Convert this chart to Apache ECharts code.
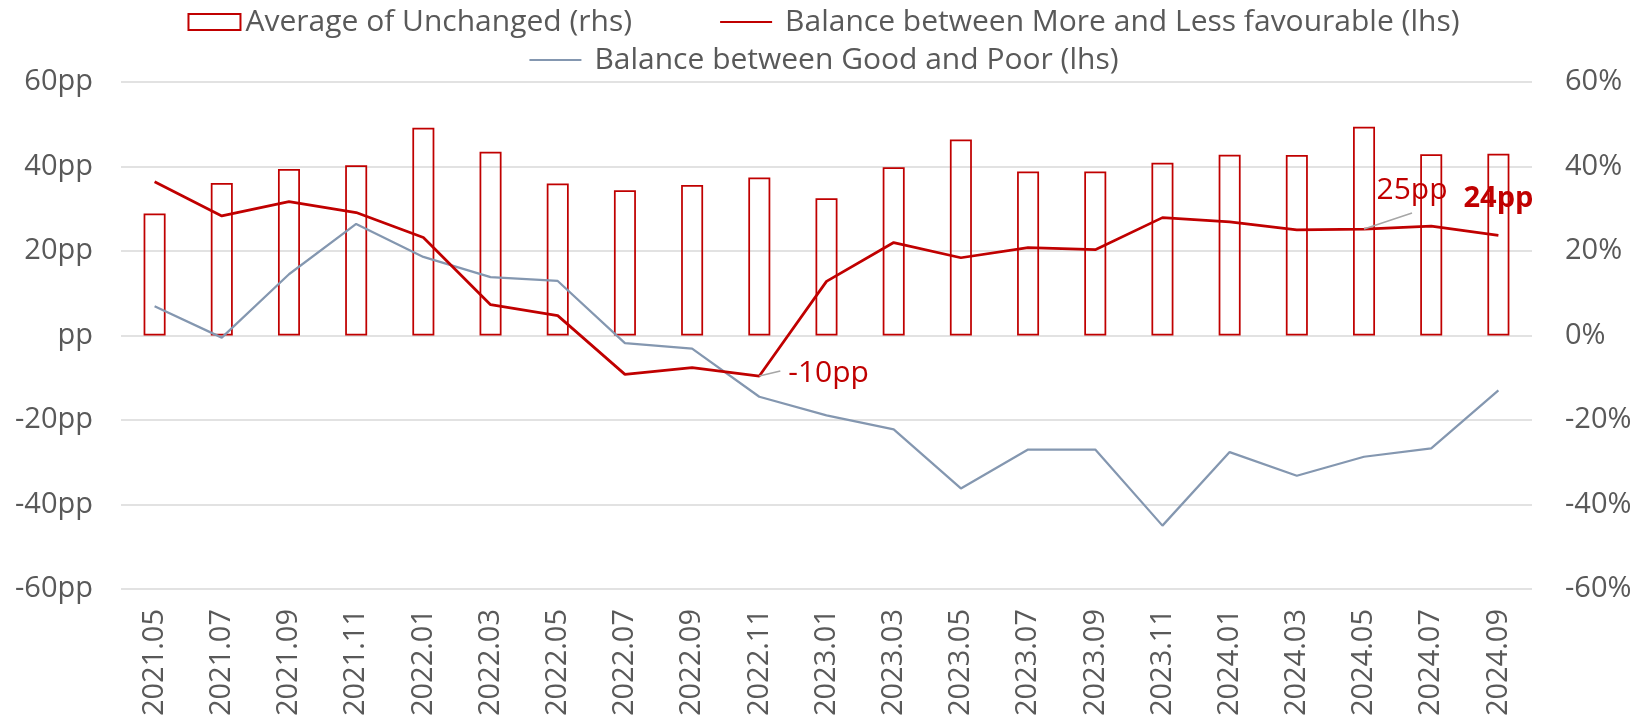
<!DOCTYPE html>
<html>
<head>
<meta charset="utf-8">
<script src="https://cdn.jsdelivr.net/npm/echarts@6.0.0/dist/echarts.min.js"></script>
<style>
    html, body { margin: 0; padding: 0; background: #fff; }
    #chart { width: 1647px; height: 721px; }
</style>
</head>
<body>
<div id="chart"></div>
<script>
// categories (every second month)
const months = [
    "2021.05", "2021.07", "2021.09", "2021.11", "2022.01", "2022.03", "2022.05",
    "2022.07", "2022.09", "2022.11", "2023.01", "2023.03", "2023.05", "2023.07",
    "2023.09", "2023.11", "2024.01", "2024.03", "2024.05", "2024.07", "2024.09"
];
// % answering "unchanged" (right axis)
const unchanged = [
    28.9, 36.1, 39.4, 40.3, 49.2, 43.5, 36.0, 34.4, 35.6, 37.4, 32.5,
    39.8, 46.4, 38.8, 38.8, 40.9, 42.8, 42.7, 49.4, 42.9, 43.0
];
// balance more vs less favourable, pp (left axis)
const moreLess = [
    36.4, 28.3, 31.7, 29.1, 23.2, 7.3, 4.7, -9.2, -7.6, -9.6, 12.8,
    22.0, 18.4, 20.8, 20.3, 27.9, 26.9, 25.0, 25.2, 25.9, 23.7
];
// balance good vs poor, pp (left axis)
const goodPoor = [
    6.9, -0.5, 14.5, 26.4, 18.6, 13.8, 12.9, -1.8, -3.1, -14.5, -18.9,
    -22.2, -36.2, -27.0, -27.0, -45.0, -27.6, -33.2, -28.7, -26.7, -13.0
];
const leftTicks = [-60, -40, -20, 0, 20, 40, 60];
// points of the red line that get a value label
const annotIdx = [9, 18, 20];

const nameBar = "Average of Unchanged (rhs)";
const nameRed = "Balance between More and Less favourable (lhs)";
const nameGray = "Balance between Good and Poor (lhs)";

const RED = "#C00000";
const GRAY = "#8497B0";
const TXT = "#595959";
const FONT = "Open Sans";

// pixel offsets of leader end and text from each labelled point
const annotLook = [
    { lx: 21, ly: -5, tx: 29, ty: -3, align: "left", weight: "normal", size: 30 },
    { lx: 48, ly: -16, tx: 48, ty: -39, align: "center", weight: "normal", size: 30 },
    { lx: null, ly: null, tx: 0, ty: -37, align: "center", weight: "bold", size: 29 }
];

function renderAnnot(params, api) {
    const v = api.value(1);
    const pt = api.coord([api.value(0), v]);
    const a = annotLook[params.dataIndex];
    const children = [];
    if (a.lx !== null) {
        children.push({
            type: "line",
            shape: { x1: pt[0], y1: pt[1], x2: pt[0] + a.lx, y2: pt[1] + a.ly },
            style: { stroke: "#A6A6A6", lineWidth: 1.5 }
        });
    }
    children.push({
        type: "text",
        x: pt[0] + a.tx,
        y: pt[1] + a.ty,
        style: {
            text: Math.round(v) + "pp",
            fill: RED,
            fontSize: a.size,
            fontFamily: FONT,
            fontWeight: a.weight,
            align: a.align,
            verticalAlign: "middle"
        }
    });
    return { type: "group", children: children };
}

const lineItemText = { padding: [0, 0, 0, 8] };
const hideDot = { opacity: 0 };

const chart = echarts.init(document.getElementById("chart"));
chart.setOption({
    animation: false,
    textStyle: { fontFamily: FONT },
    legend: [
        {
            data: [
                { name: nameBar, icon: "rect" },
                { name: nameRed, itemStyle: hideDot, textStyle: lineItemText }
            ],
            top: 2,
            left: "center",
            itemGap: 87,
            itemWidth: 52,
            itemHeight: 16,
            textStyle: { fontSize: 30, color: TXT, fontFamily: FONT }
        },
        {
            data: [{ name: nameGray, itemStyle: hideDot, textStyle: lineItemText }],
            top: 40,
            left: "center",
            itemWidth: 52,
            itemHeight: 16,
            textStyle: { fontSize: 30, color: TXT, fontFamily: FONT }
        }
    ],
    grid: { left: 121, right: 115, top: 82, bottom: 132 },
    xAxis: {
        type: "category",
        data: months,
        axisLine: { show: false, onZero: false },
        axisTick: { show: false },
        axisLabel: {
            rotate: 90,
            margin: 20,
            fontSize: 29,
            color: TXT,
            fontFamily: FONT
        }
    },
    yAxis: [
        {
            type: "value",
            min: leftTicks[0],
            max: leftTicks[leftTicks.length - 1],
            interval: 20,
            axisLabel: {
                margin: 28,
                fontSize: 29,
                color: TXT,
                fontFamily: FONT,
                formatter: v => (v === 0 ? "pp" : v + "pp")
            },
            splitLine: { lineStyle: { color: "#D9D9D9", width: 1.5 } }
        },
        {
            type: "value",
            min: -60,
            max: 60,
            interval: 20,
            axisLabel: {
                margin: 33,
                fontSize: 29,
                color: TXT,
                fontFamily: FONT,
                formatter: v => v + "%"
            },
            splitLine: { show: false }
        }
    ],
    series: [
        {
            name: nameBar,
            type: "bar",
            yAxisIndex: 1,
            data: unchanged,
            barWidth: 22,
            itemStyle: {
                color: "rgba(0,0,0,0)",
                borderColor: RED,
                borderWidth: 1.75
            }
        },
        {
            name: nameRed,
            type: "line",
            yAxisIndex: 0,
            data: moreLess,
            symbol: "none",
            lineStyle: { color: RED, width: 2.75 },
            itemStyle: { color: RED },
            z: 4
        },
        {
            name: nameGray,
            type: "line",
            yAxisIndex: 0,
            data: goodPoor,
            symbol: "none",
            lineStyle: { color: GRAY, width: 2.25 },
            itemStyle: { color: GRAY },
            z: 3
        },
        {
            type: "custom",
            yAxisIndex: 0,
            silent: true,
            clip: false,
            z: 5,
            data: annotIdx.map(i => [i, moreLess[i]]),
            encode: { x: 0, y: 1 },
            renderItem: renderAnnot
        }
    ]
});
</script>
</body>
</html>
